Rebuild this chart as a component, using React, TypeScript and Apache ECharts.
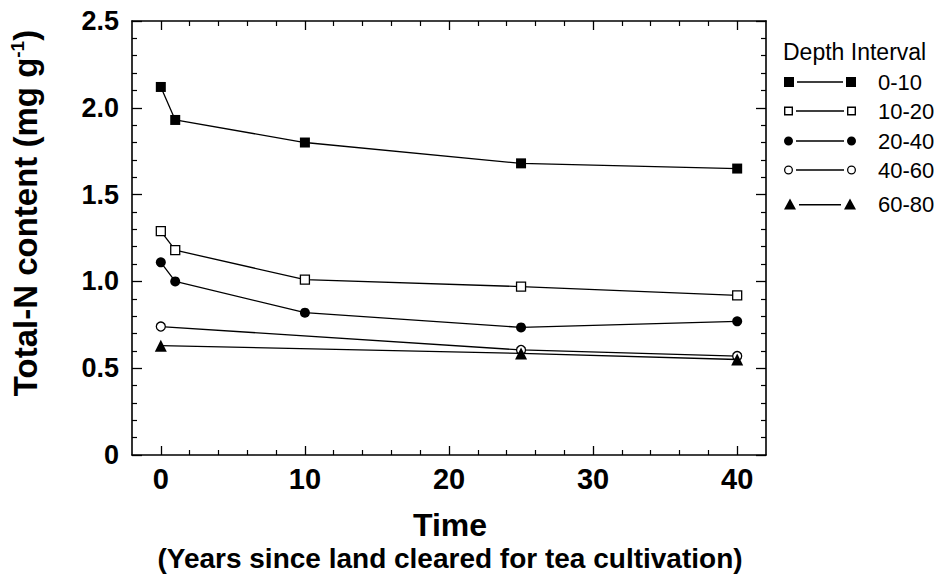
import React, { useEffect, useRef } from 'react';
import * as echarts from 'echarts';

// Years since land cleared (x) and total-N content (mg g-1) per depth interval
const yearsShallow = [0, 1, 10, 25, 40];
const depth0to10 = [2.12, 1.93, 1.80, 1.68, 1.65];
const depth10to20 = [1.29, 1.18, 1.01, 0.97, 0.92];
const depth20to40 = [1.11, 1.0, 0.82, 0.735, 0.77];
const yearsDeep = [0, 25, 40];
const depth40to60 = [0.74, 0.605, 0.57];
const depth60to80 = [0.63, 0.585, 0.55];

const seriesNames = ['0-10', '10-20', '20-40', '40-60', '60-80'];
const xMajorTicks = [0, 10, 20, 30, 40];
const xMinorTicks = [2, 4, 6, 8, 12, 14, 16, 18, 22, 24, 26, 28, 32, 34, 36, 38];
const yTicks = [0, 0.5, 1.0, 1.5, 2.0, 2.5];

const FONT = '"Liberation Sans", Arial, Helvetica, sans-serif';

const pairs = (xs: number[], ys: number[]) => xs.map((x, i) => [x, ys[i]]);

const legendIcons: Record<string, { icon: string; h: number }> = {
  '0-10': { icon: 'path://M0,0H10V10H0Z M13,4.35H59V5.65H13Z M62,0H72V10H62Z', h: 10 },
  '10-20': {
    icon:
      'path://M0,0H9V9H0Z M1.4,1.4V7.6H7.6V1.4Z M12,3.85H60V5.15H12Z M63,0H72V9H63Z M64.4,1.4V7.6H70.6V1.4Z',
    h: 9,
  },
  '20-40': {
    icon:
      'path://M0,4.5A4.5,4.5,0,1,1,9,4.5A4.5,4.5,0,1,1,0,4.5Z M12,3.85H60V5.15H12Z M63,4.5A4.5,4.5,0,1,1,72,4.5A4.5,4.5,0,1,1,63,4.5Z',
    h: 9,
  },
  '40-60': {
    icon:
      'path://M0,4.5A4.5,4.5,0,1,1,9,4.5A4.5,4.5,0,1,1,0,4.5Z M1.3,4.5A3.2,3.2,0,1,0,7.7,4.5A3.2,3.2,0,1,0,1.3,4.5Z M12,3.85H60V5.15H12Z M63,4.5A4.5,4.5,0,1,1,72,4.5A4.5,4.5,0,1,1,63,4.5Z M64.3,4.5A3.2,3.2,0,1,0,70.7,4.5A3.2,3.2,0,1,0,64.3,4.5Z',
    h: 9,
  },
  '60-80': { icon: 'path://M0,11L6,0L12,11Z M15,5.6H57V6.9H15Z M60,11L66,0L72,11Z', h: 11 },
};
const legendRowCenters = [82, 111, 141, 170, 204];

export default function App() {
  const ref = useRef<HTMLDivElement>(null);
  useEffect(() => {
    if (!ref.current) return;
    const chart = echarts.init(ref.current, null, { renderer: 'svg' });
    const grid = { left: 132, top: 21, right: 176, bottom: 125 };
    const axisLine = { show: true, onZero: false, lineStyle: { color: '#000', width: 1.6 } };
    const noLine = { show: false, onZero: false };
    const baseX = { type: 'value' as const, min: -2, max: 42, splitLine: { show: false } };
    const baseY = { type: 'value' as const, min: 0, max: 2.5, interval: 0.5, splitLine: { show: false } };

    const lineStyle = { color: '#000', width: 1.3 };
    const mk = (
      name: string,
      data: number[][],
      symbol: string,
      size: number,
      open: boolean
    ) => ({
      name,
      type: 'line',
      xAxisIndex: 0,
      yAxisIndex: 0,
      data,
      symbol,
      symbolSize: size,
      showSymbol: true,
      lineStyle,
      itemStyle: open
        ? { color: '#fff', borderColor: '#000', borderWidth: 1.3 }
        : { color: '#000', borderColor: '#000', borderWidth: 0 },
      emphasis: { disabled: true },
      z: open ? 3 : 4,
    });

    const legends = seriesNames.map((n, i) => {
      const li = legendIcons[n];
      return {
        left: 784,
        top: legendRowCenters[i] - 11,
        orient: 'vertical',
        padding: 0,
        selectedMode: false,
        itemWidth: 72,
        itemHeight: li.h,
        itemStyle: { color: '#000', borderWidth: 0 },
        textStyle: {
          fontFamily: FONT,
          fontSize: 22,
          lineHeight: 22,
          color: '#000',
          padding: [0, 0, 0, 17],
        },
        data: [{ name: n, icon: li.icon, itemStyle: { color: '#000', borderWidth: 0 } }],
      };
    });

    const majorTickStyle = { color: '#000', width: 1.3 };
    const minorTickStyle = { color: '#000', width: 1.2 };

    chart.setOption({
      animation: false,
      grid,
      legend: legends,
      xAxis: [
        {
          ...baseX,
          position: 'bottom',
          axisLine,
          axisTick: { show: true, inside: true, length: 9, customValues: xMajorTicks, lineStyle: majorTickStyle },
          axisLabel: {
            customValues: xMajorTicks,
            margin: 9,
            fontFamily: FONT,
            fontSize: 29,
            fontWeight: 'bold',
            color: '#000',
          },
        },
        {
          ...baseX,
          position: 'bottom',
          axisLine: noLine,
          axisTick: { show: true, inside: true, length: 5, customValues: xMinorTicks, lineStyle: minorTickStyle },
          axisLabel: { show: false },
        },
        {
          ...baseX,
          position: 'top',
          axisLine,
          axisTick: { show: true, inside: true, length: 9, customValues: xMajorTicks, lineStyle: majorTickStyle },
          axisLabel: { show: false },
        },
        {
          ...baseX,
          position: 'top',
          axisLine: noLine,
          axisTick: { show: true, inside: true, length: 5, customValues: xMinorTicks, lineStyle: minorTickStyle },
          axisLabel: { show: false },
        },
      ],
      yAxis: [
        {
          ...baseY,
          position: 'left',
          axisLine,
          axisTick: { show: true, inside: true, length: 10, lineStyle: majorTickStyle },
          minorTick: { show: true, splitNumber: 5, length: 5, lineStyle: minorTickStyle },
          axisLabel: {
            margin: 13,
            fontFamily: FONT,
            fontSize: 27,
            fontWeight: 'bold',
            color: '#000',
            formatter: (v: number) => (yTicks.indexOf(v) >= 0 ? (v === 0 ? '0' : v.toFixed(1)) : ''),
          },
        },
        {
          ...baseY,
          position: 'right',
          axisLine,
          axisTick: { show: true, inside: true, length: 10, lineStyle: majorTickStyle },
          minorTick: { show: true, splitNumber: 5, length: 5, lineStyle: minorTickStyle },
          axisLabel: { show: false },
        },
      ],
      series: [
        mk('0-10', pairs(yearsShallow, depth0to10), 'rect', 10, false),
        mk('10-20', pairs(yearsShallow, depth10to20), 'rect', 9, true),
        mk('20-40', pairs(yearsShallow, depth20to40), 'circle', 10, false),
        mk('40-60', pairs(yearsDeep, depth40to60), 'circle', 9, true),
        mk('60-80', pairs(yearsDeep, depth60to80), 'triangle', 12, false),
      ],
      graphic: [
        {
          type: 'text',
          left: 783,
          top: 40,
          style: { text: 'Depth Interval', fontFamily: FONT, fontSize: 23, fill: '#000' },
        },
        {
          type: 'text',
          x: 25,
          y: 213,
          rotation: Math.PI / 2,
          style: {
            text: 'Total-N content (mg g{sup|-1})',
            fontFamily: FONT,
            fontSize: 33,
            fontWeight: 'bold',
            fill: '#000',
            align: 'center',
            verticalAlign: 'middle',
            rich: {
              sup: { fontFamily: FONT, fontSize: 19, fontWeight: 'bold', fill: '#000', verticalAlign: 'top', padding: [0, 0, 15, 0] },
            },
          },
        },
        {
          type: 'text',
          x: 450,
          y: 525,
          style: {
            text: 'Time',
            fontFamily: FONT,
            fontSize: 32,
            fontWeight: 'bold',
            fill: '#000',
            align: 'center',
            verticalAlign: 'middle',
          },
        },
        {
          type: 'text',
          x: 450,
          y: 558,
          style: {
            text: '(Years since land cleared for tea cultivation)',
            fontFamily: FONT,
            fontSize: 28,
            fontWeight: 'bold',
            fill: '#000',
            align: 'center',
            verticalAlign: 'middle',
          },
        },
      ],
    });
    return () => chart.dispose();
  }, []);
  return (
    <div
      ref={ref}
      style={{ position: 'fixed', left: 0, top: 0, width: 942, height: 580, background: '#fff' }}
    />
  );
}
